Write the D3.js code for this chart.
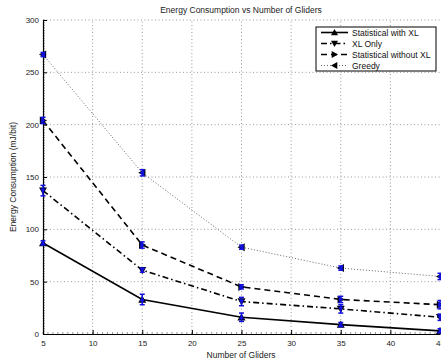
<!DOCTYPE html>
<html>
<head>
<meta charset="utf-8">
<script src="https://cdn.jsdelivr.net/npm/d3@7"></script>
<style>
  body { margin: 0; background: #fff; }
  svg { font-family: "Liberation Sans", Arial, sans-serif; }
  .axis text { font-size: 8px; fill: #222; }
  .grid line { stroke: #999; stroke-dasharray: 1,2.5; }
</style>
</head>
<body>
<div id="chart"></div>
<script>
var gliders = [5, 15, 25, 35, 45];
var seriesNames = ["Statistical with XL", "XL Only", "Statistical without XL", "Greedy"];
var withXL = [87, 33, 16, 9, 3];
var withXLErr = [2, 5, 4, 2, 2];
var xlOnly = [137, 61, 31, 24, 16];
var xlOnlyErr = [5, 2, 4, 4, 3];
var withoutXL = [204, 85, 45, 33, 28];
var withoutXLErr = [3, 3, 2, 3, 4];
var greedy = [267, 154, 83, 63, 55];
var greedyErr = [2, 3, 2, 2, 3];
var xTicks = [5, 10, 15, 20, 25, 30, 35, 40, 45];
var yTicks = [0, 50, 100, 150, 200, 250, 300];

var width = 441, height = 362;
var margin = {left: 43, right: 1, top: 20, bottom: 28};

var series = [
  {name: seriesNames[0], values: withXL, err: withXLErr, dash: null, marker: "up"},
  {name: seriesNames[1], values: xlOnly, err: xlOnlyErr, dash: "6,3,1.5,3", marker: "down"},
  {name: seriesNames[2], values: withoutXL, err: withoutXLErr, dash: "6,4", marker: "right"},
  {name: seriesNames[3], values: greedy, err: greedyErr, dash: "1,2", marker: "left"}
];

var svg = d3.select("#chart").append("svg")
    .attr("width", width)
    .attr("height", height);

var x = d3.scaleLinear().domain([5, 45]).range([margin.left, width - margin.right]);
var y = d3.scaleLinear().domain([0, 300]).range([height - margin.bottom, margin.top]);

// grid
svg.append("g").attr("class", "grid")
    .selectAll("line").data(xTicks.slice(1, -1)).enter().append("line")
    .attr("x1", d => x(d)).attr("x2", d => x(d))
    .attr("y1", y(0)).attr("y2", y(300));
svg.append("g").attr("class", "grid")
    .selectAll("line").data(yTicks.slice(1)).enter().append("line")
    .attr("x1", x(5)).attr("x2", x(45))
    .attr("y1", d => y(d)).attr("y2", d => y(d));

// minor ticks
svg.append("g").selectAll("line").data(d3.range(0, 301, 2.5)).enter().append("line")
    .attr("x1", x(5)).attr("x2", x(5) + 2)
    .attr("y1", d => y(d)).attr("y2", d => y(d))
    .attr("stroke", "#555").attr("stroke-width", 0.6);
svg.append("g").selectAll("line").data(d3.range(5, 45.01, 0.5)).enter().append("line")
    .attr("x1", d => x(d)).attr("x2", d => x(d))
    .attr("y1", y(0)).attr("y2", y(0) - 2)
    .attr("stroke", "#555").attr("stroke-width", 0.6);

svg.append("g").attr("class", "x axis")
    .attr("transform", "translate(0," + y(0) + ")")
    .call(d3.axisBottom(x).tickValues(xTicks).tickSize(-4).tickPadding(6).tickSizeOuter(0))
    .call(g => g.select(".domain").attr("stroke-width", 1.2));
svg.append("g").attr("class", "y axis")
    .attr("transform", "translate(" + x(5) + ",0)")
    .call(d3.axisLeft(y).tickValues(yTicks).tickSize(-4).tickPadding(4).tickSizeOuter(0))
    .call(g => g.select(".domain").attr("stroke-width", 1.2));

// title and labels
svg.append("text").attr("x", 241).attr("y", 13)
    .attr("text-anchor", "middle").attr("font-size", 8.5).attr("fill", "#222")
    .text("Energy Consumption vs Number of Gliders");
svg.append("text").attr("x", 241).attr("y", 358)
    .attr("text-anchor", "middle").attr("font-size", 8.5).attr("fill", "#222")
    .text("Number of Gliders");
svg.append("text").attr("transform", "translate(16," + y(150) + ") rotate(-90)")
    .attr("text-anchor", "middle").attr("font-size", 8.5).attr("fill", "#222")
    .text("Energy Consumption (mJ/bit)");

function markerPath(type, s) {
  if (type === "up") return "M0," + (-s) + "L" + s + "," + (s * 0.8) + "L" + (-s) + "," + (s * 0.8) + "Z";
  if (type === "down") return "M0," + s + "L" + s + "," + (-s * 0.8) + "L" + (-s) + "," + (-s * 0.8) + "Z";
  if (type === "right") return "M" + s + ",0L" + (-s * 0.8) + "," + s + "L" + (-s * 0.8) + "," + (-s) + "Z";
  return "M" + (-s) + ",0L" + (s * 0.8) + "," + s + "L" + (s * 0.8) + "," + (-s) + "Z";
}

var line = d3.line().x((d, i) => x(gliders[i])).y(d => y(d));

series.forEach(function(s) {
  var g = svg.append("g");
  g.append("path")
      .attr("d", line(s.values))
      .attr("fill", "none")
      .attr("stroke", s.dash === "1,2" ? "#666" : "#000")
      .attr("stroke-width", s.dash === "1,2" ? 1 : 1.6)
      .attr("stroke-dasharray", s.dash);
  g.selectAll(".mk").data(s.values).enter().append("path")
      .attr("transform", (d, i) => "translate(" + x(gliders[i]) + "," + y(d) + ")")
      .attr("d", markerPath(s.marker, 4))
      .attr("fill", "#000");
  var eb = g.selectAll(".eb").data(s.values).enter().append("g")
      .attr("stroke", "#1010e0").attr("stroke-width", 1.5);
  eb.append("line")
      .attr("x1", (d, i) => x(gliders[i])).attr("x2", (d, i) => x(gliders[i]))
      .attr("y1", (d, i) => y(d - s.err[i])).attr("y2", (d, i) => y(d + s.err[i]));
  eb.append("line")
      .attr("x1", (d, i) => x(gliders[i]) - 2.5).attr("x2", (d, i) => x(gliders[i]) + 2.5)
      .attr("y1", (d, i) => y(d - s.err[i])).attr("y2", (d, i) => y(d - s.err[i]));
  eb.append("line")
      .attr("x1", (d, i) => x(gliders[i]) - 2.5).attr("x2", (d, i) => x(gliders[i]) + 2.5)
      .attr("y1", (d, i) => y(d + s.err[i])).attr("y2", (d, i) => y(d + s.err[i]));
  g.selectAll(".mk2").data(s.values).enter().append("path")
      .attr("transform", (d, i) => "translate(" + x(gliders[i]) + "," + y(d) + ")")
      .attr("d", markerPath(s.marker, 2.6))
      .attr("fill", "#1010e0");
});

// legend
var legend = svg.append("g").attr("transform", "translate(316,27)");
legend.append("rect").attr("width", 120).attr("height", 44)
    .attr("fill", "#fff").attr("stroke", "#000").attr("stroke-width", 1);
series.forEach(function(s, i) {
  var ly = 5.5 + i * 11;
  legend.append("line").attr("x1", 5).attr("x2", 32).attr("y1", ly).attr("y2", ly)
      .attr("stroke", s.dash === "1,2" ? "#666" : "#000")
      .attr("stroke-width", s.dash === "1,2" ? 1 : 1.6)
      .attr("stroke-dasharray", s.dash);
  legend.append("path").attr("transform", "translate(18.5," + ly + ")")
      .attr("d", markerPath(s.marker, 3.5)).attr("fill", "#000");
  legend.append("text").attr("x", 36).attr("y", ly + 3)
      .attr("font-size", 8.5).attr("fill", "#111").text(s.name);
});
</script>
</body>
</html>
